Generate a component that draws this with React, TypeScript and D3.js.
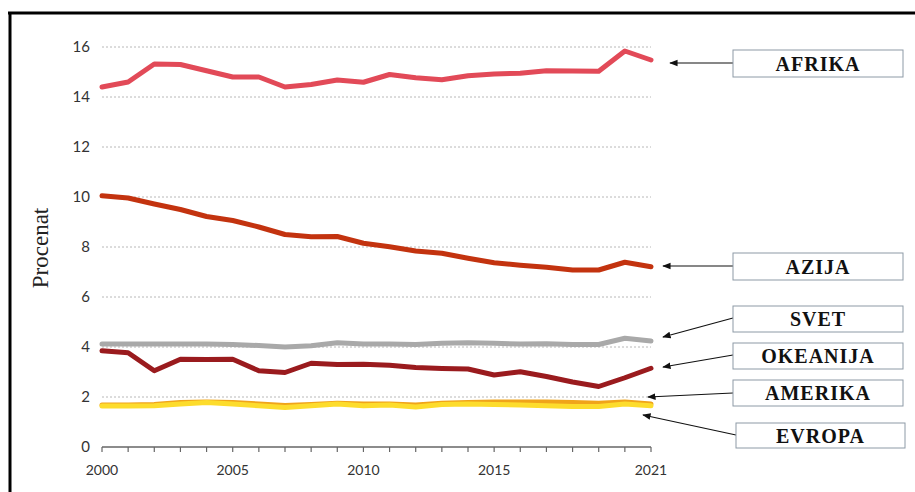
import * as d3 from "d3";

const years = d3.range(2000, 2022);

const afrika = [14.4, 14.6, 15.32, 15.3, 15.05, 14.8, 14.8, 14.4, 14.5, 14.68, 14.59, 14.9, 14.77, 14.69, 14.85, 14.92, 14.95, 15.05, 15.04, 15.03, 15.84, 15.48];
const azija = [10.05, 9.96, 9.72, 9.5, 9.22, 9.06, 8.8, 8.5, 8.41, 8.42, 8.15, 8.01, 7.84, 7.75, 7.55, 7.37, 7.27, 7.19, 7.08, 7.08, 7.39, 7.21];
const svet = [4.12, 4.12, 4.12, 4.12, 4.12, 4.1, 4.06, 4.0, 4.05, 4.17, 4.12, 4.12, 4.1, 4.15, 4.17, 4.15, 4.12, 4.13, 4.1, 4.1, 4.35, 4.24];
const okeanija = [3.85, 3.77, 3.05, 3.51, 3.5, 3.51, 3.05, 2.98, 3.35, 3.3, 3.31, 3.27, 3.18, 3.14, 3.12, 2.88, 3.01, 2.82, 2.6, 2.42, 2.77, 3.15];
const amerika = [1.68, 1.68, 1.7, 1.78, 1.8, 1.78, 1.72, 1.66, 1.7, 1.75, 1.72, 1.72, 1.68, 1.75, 1.78, 1.8, 1.8, 1.8, 1.78, 1.75, 1.8, 1.72];
const evropa = [1.64, 1.64, 1.65, 1.72, 1.78, 1.72, 1.65, 1.58, 1.65, 1.72, 1.65, 1.68, 1.6, 1.7, 1.72, 1.7, 1.68, 1.65, 1.62, 1.62, 1.72, 1.65];

const yTicks = [0, 2, 4, 6, 8, 10, 12, 14, 16];
const xLabels = [2000, 2005, 2010, 2015, 2021];

const series = [
  { name: "SVET", values: svet, color: "#a9a9a9" },
  { name: "AFRIKA", values: afrika, color: "#e24a58" },
  { name: "AZIJA", values: azija, color: "#c3330f" },
  { name: "OKEANIJA", values: okeanija, color: "#9a1b1e" },
  { name: "AMERIKA", values: amerika, color: "#f0a41a" },
  { name: "EVROPA", values: evropa, color: "#fddc2c" },
];

// label boxes + arrows (annotation layout)
const notes = [
  { name: "AFRIKA", box: [733, 50, 170, 27], from: [733, 63], to: [670, 63] },
  { name: "AZIJA", box: [733, 253, 170, 27], from: [733, 266], to: [663, 266] },
  { name: "SVET", box: [733, 306, 170, 26], from: [733, 318], to: [663, 337] },
  { name: "OKEANIJA", box: [733, 343, 170, 26], from: [733, 355], to: [663, 367] },
  { name: "AMERIKA", box: [733, 380, 170, 26], from: [733, 393], to: [648, 397] },
  { name: "EVROPA", box: [736, 423, 169, 25], from: [736, 435], to: [643, 415] },
];

export default function App() {
  const width = 915;
  const height = 492;
  const x = d3.scaleLinear().domain([2000, 2021]).range([102, 651]);
  const y = d3.scaleLinear().domain([0, 16]).range([447, 47]);

  const line = d3
    .line<number>()
    .x((_, i) => x(years[i]))
    .y((d) => y(d))
    .curve(d3.curveLinear);

  const tickFont = "'Lato', 'Noto Sans', sans-serif";

  return (
    <svg
      width={width}
      height={height}
      style={{ position: "absolute", left: 0, top: 0, background: "#fff" }}
    >
      <defs>
        <marker id="arr" viewBox="0 0 10 10" refX="9" refY="5" markerWidth="7" markerHeight="7" orient="auto-start-reverse">
          <path d="M0,1 L10,5 L0,9 z" fill="#111" />
        </marker>
      </defs>

      {/* frame */}
      <line x1={8} x2={915} y1={13} y2={13} stroke="#000" strokeWidth={3} />
      <line x1={10} x2={10} y1={12} y2={492} stroke="#000" strokeWidth={3} />

      {/* grid */}
      {yTicks.filter((t) => t > 0).map((t) => (
        <line key={t} x1={x(2000)} x2={x(2021)} y1={y(t)} y2={y(t)} stroke="#b8b8b8" strokeWidth={1} strokeDasharray="2,2" />
      ))}

      {/* y tick labels */}
      {yTicks.map((t) => (
        <text key={t} x={90} y={y(t)} dy="0.35em" textAnchor="end" fontSize={15} fill="#333" fontFamily={tickFont}>
          {t}
        </text>
      ))}

      {/* x axis */}
      <line x1={x(2000)} x2={x(2021)} y1={y(0)} y2={y(0)} stroke="#666" strokeWidth={1.5} />
      {years.map((yr) => (
        <line key={yr} x1={x(yr)} x2={x(yr)} y1={y(0)} y2={y(0) + 5} stroke="#666" strokeWidth={1.2} />
      ))}
      {xLabels.map((yr) => (
        <text key={yr} x={x(yr)} y={475} textAnchor="middle" fontSize={14} fill="#333" fontFamily={tickFont}>
          {yr}
        </text>
      ))}

      <text
        transform={`translate(48,248) rotate(-90)`}
        textAnchor="middle"
        fontSize={23}
        fontFamily="'Liberation Serif', 'Times New Roman', serif"
        fill="#222"
      >
        Procenat
      </text>

      {/* lines */}
      {series.map((s) => (
        <path key={s.name} d={line(s.values) || ""} fill="none" stroke={s.color} strokeWidth={5} strokeLinejoin="round" strokeLinecap="round" />
      ))}

      {/* annotations */}
      {notes.map((n) => (
        <g key={n.name}>
          <line x1={n.from[0]} y1={n.from[1]} x2={n.to[0]} y2={n.to[1]} stroke="#111" strokeWidth={1.2} markerEnd="url(#arr)" />
          <rect x={n.box[0]} y={n.box[1]} width={n.box[2]} height={n.box[3]} fill="#fff" stroke="#8d9aa6" strokeWidth={1} />
          <text
            x={n.box[0] + n.box[2] / 2}
            y={n.box[1] + n.box[3] / 2}
            dy="0.36em"
            textAnchor="middle"
            fontSize={20}
            fontWeight="bold"
            letterSpacing={1}
            fontFamily="'Liberation Serif', 'Times New Roman', serif"
            fill="#111"
          >
            {n.name}
          </text>
        </g>
      ))}
    </svg>
  );
}
